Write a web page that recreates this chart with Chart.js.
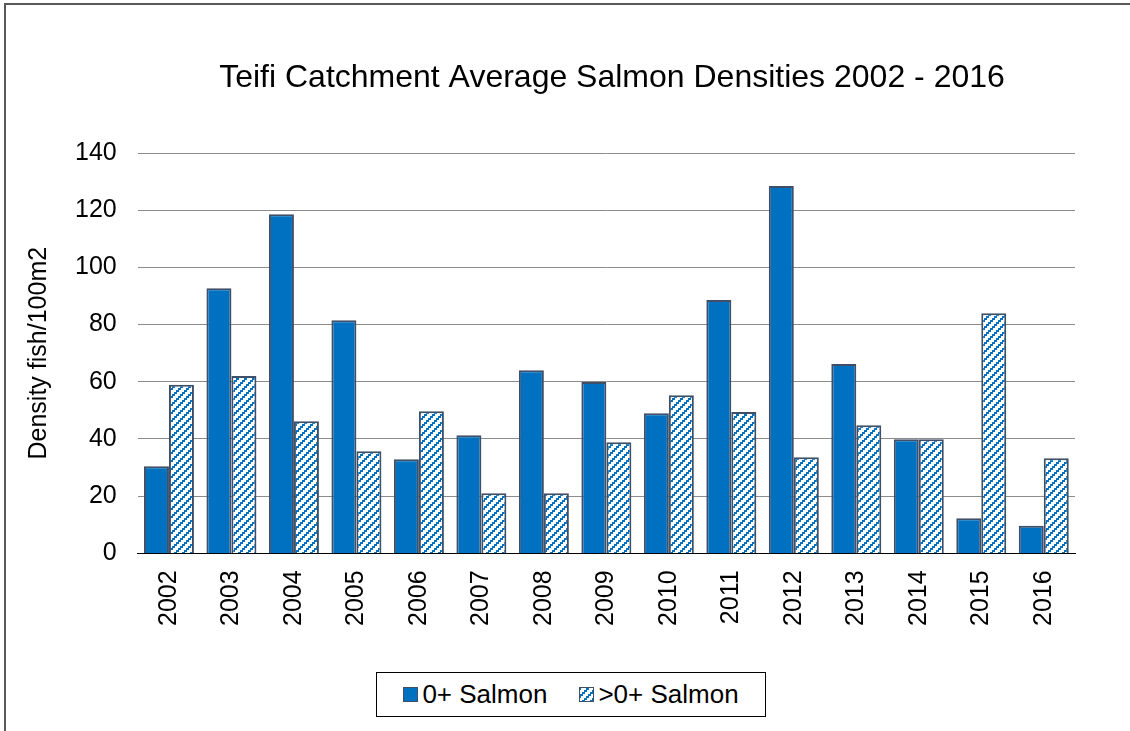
<!DOCTYPE html>
<html lang="en">
<head>
  <meta charset="UTF-8" />
  <title>Teifi Catchment Average Salmon Densities</title>
  <script src="https://cdn.jsdelivr.net/npm/chart.js"></script>
  <style>
    body {
      margin: 0;
      background: #fff;
      font-family: 'Liberation Sans', Arial, sans-serif;
    }
    #wrap {
      position: relative;
      width: 1130px;
      height: 731px;
    }
    #legend {
      position: absolute;
      left: 376px;
      top: 672px;
      width: 388px;
      height: 43px;
      border: 1px solid #000;
      display: flex;
      align-items: center;
      justify-content: center;
      font-size: 26px;
      color: #000;
      background: #fff;
    }
    .item {
      display: flex;
      align-items: center;
      margin: 0 16px;
    }
    .swatch {
      display: inline-block;
      width: 13px;
      height: 13px;
      border: 1px solid #3F4F68;
      margin-right: 4px;
    }
  </style>
</head>
<body>
  <div id="wrap">
    <canvas id="salmonChart"></canvas>
    <div id="legend"></div>
  </div>

  <script>
    const years = ['2002', '2003', '2004', '2005', '2006', '2007', '2008', '2009',
                   '2010', '2011', '2012', '2013', '2014', '2015', '2016'];
    const fry = [30.5, 92.7, 118.6, 81.5, 32.9, 41.3, 64, 59.9, 49, 88.6, 128.5, 66.2, 39.9, 12.3, 9.7];
    const parr = [59, 62, 46.2, 35.7, 49.7, 21, 21, 38.9, 55.3, 49.4, 33.6, 44.8, 39.9, 84, 33.3];
    const yTicks = [0, 20, 40, 60, 80, 100, 120, 140];
    const chartTitle = 'Teifi Catchment Average Salmon Densities 2002 - 2016';

    const blue = '#0070C0';
    const edge = '#3F4F68';
    const FONT = 'Liberation Sans, Arial, sans-serif';

    // stair-step diagonal hatch like the Excel pattern fill
    function makeHatchTile() {
      const c = document.createElement('canvas');
      c.width = 8;
      c.height = 8;
      const g = c.getContext('2d');
      g.fillStyle = '#fff';
      g.fillRect(0, 0, 8, 8);
      g.fillStyle = blue;
      for (let i = 0; i < 8; i += 2) {
        const y = 7 - i - 1;
        g.fillRect(i, y, 3, 2);
        g.fillRect(i - 8, y, 3, 2);
      }
      return c;
    }
    const tile = makeHatchTile();
    const hatch = tile.getContext('2d').createPattern(tile, 'repeat');

    const framePlugin = {
      id: 'frame',
      beforeDraw(chart) {
        const ctx = chart.ctx;
        ctx.save();
        ctx.fillStyle = '#fff';
        ctx.fillRect(0, 0, chart.width, chart.height);
        ctx.strokeStyle = '#595959';
        ctx.lineWidth = 2;
        ctx.beginPath();
        ctx.moveTo(5, chart.height);
        ctx.lineTo(5, 4);
        ctx.lineTo(chart.width, 4);
        ctx.stroke();
        // title, centred a little right of the plot like the original
        ctx.fillStyle = '#000';
        ctx.font = '32px ' + FONT;
        ctx.textAlign = 'center';
        ctx.textBaseline = 'middle';
        ctx.fillText(chartTitle, 612, 78);
        ctx.restore();
      }
    };

    const chart = new Chart(document.getElementById('salmonChart'), {
      type: 'bar',
      data: {
        labels: years,
        datasets: [{
          label: '0+ Salmon',
          data: fry,
          backgroundColor: blue,
          borderColor: edge,
          borderWidth: 2,
          categoryPercentage: 0.8,
          barPercentage: 1
        }, {
          label: '>0+ Salmon',
          data: parr,
          backgroundColor: hatch,
          borderColor: edge,
          borderWidth: 2,
          categoryPercentage: 0.8,
          barPercentage: 1
        }]
      },
      options: {
        responsive: true,
        maintainAspectRatio: false,
        animation: false,
        layout: {
          padding: { left: 18, right: 55, top: 153, bottom: 88 }
        },
        plugins: {
          legend: { display: false },
          tooltip: { enabled: false }
        },
        scales: {
          x: {
            grid: { display: false, drawTicks: false },
            border: { color: '#000', width: 1 },
            ticks: {
              color: '#000',
              font: { family: FONT, size: 25 },
              minRotation: 90,
              maxRotation: 90,
              padding: 17
            }
          },
          y: {
            min: 0,
            max: 140,
            afterBuildTicks(axis) {
              axis.ticks = yTicks.map(v => ({ value: v }));
            },
            grid: { color: '#8C8C8C', lineWidth: 1, drawTicks: false },
            border: { display: false },
            ticks: {
              color: '#000',
              font: { family: FONT, size: 25 },
              padding: 21
            },
            title: {
              display: true,
              text: 'Density fish/100m2',
              color: '#000',
              font: { family: FONT, size: 25 },
              padding: { top: 6, bottom: 0 }
            }
          }
        }
      },
      plugins: [framePlugin]
    });

    // boxed legend under the axis, as in the Excel chart
    const legendBox = document.getElementById('legend');
    chart.data.datasets.forEach(ds => {
      const item = document.createElement('span');
      item.className = 'item';
      const sw = document.createElement('span');
      sw.className = 'swatch';
      if (ds.backgroundColor === hatch) {
        sw.style.backgroundImage = 'url(' + tile.toDataURL() + ')';
      } else {
        sw.style.background = ds.backgroundColor;
      }
      item.appendChild(sw);
      item.appendChild(document.createTextNode(ds.label));
      legendBox.appendChild(item);
    });
  </script>
</body>
</html>
